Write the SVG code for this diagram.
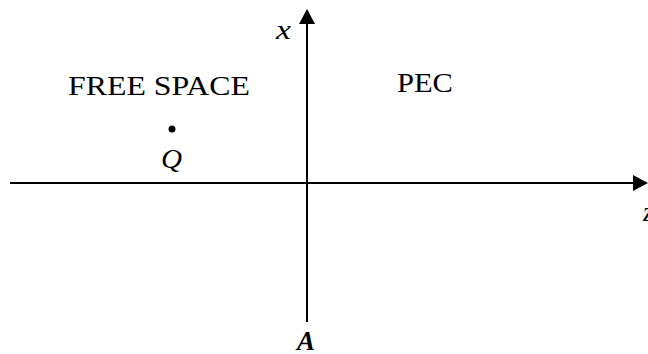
<svg xmlns="http://www.w3.org/2000/svg" width="648" height="354" viewBox="0 0 648 354">
<style>
  .t { font-family: "Liberation Serif", "Times New Roman", serif; font-size: 27px; fill: #000; }
  .i { font-style: italic; }
  .b { font-weight: bold; }
  .axis { stroke: #000; stroke-width: 2; fill: none; }
</style>
<defs>
  <marker id="arr" markerUnits="userSpaceOnUse" markerWidth="16" markerHeight="16" refX="0" refY="8" orient="auto" viewBox="0 0 16 16">
    <path d="M0,0 L15,8 L0,16 z" fill="#000"/>
  </marker>
</defs>
<rect width="648" height="354" fill="#fff"/>
<g id="connectors">
  <line class="axis" x1="307" y1="322" x2="307" y2="24" marker-end="url(#arr)"/>
  <line class="axis" x1="10" y1="183" x2="633" y2="183" marker-end="url(#arr)"/>
</g>
<g id="label-x"><text class="t i" x="276" y="39" textLength="15" lengthAdjust="spacingAndGlyphs">x</text></g>
<g id="label-z"><text class="t i" x="643" y="221">z</text></g>
<g id="free-space"><text class="t" x="68" y="95" textLength="182" lengthAdjust="spacingAndGlyphs">FREE SPACE</text></g>
<g id="pec"><text class="t" x="397" y="92" textLength="56" lengthAdjust="spacingAndGlyphs">PEC</text></g>
<g id="charge-Q">
  <circle cx="172" cy="129" r="3.5" fill="#000"/>
  <text class="t i" x="161" y="168" textLength="21" lengthAdjust="spacingAndGlyphs">Q</text>
</g>
<g id="label-A"><text class="t i b" x="297" y="350">A</text></g>
</svg>
